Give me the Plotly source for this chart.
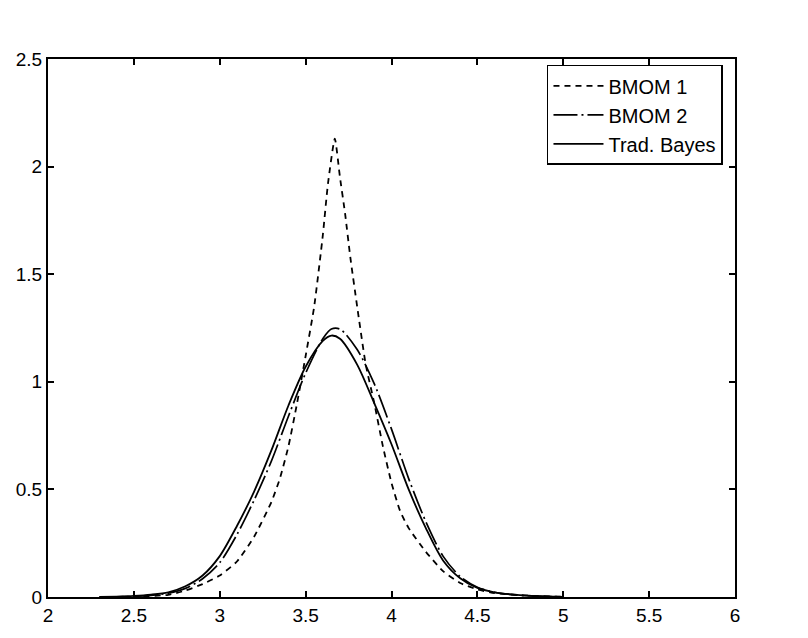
import plotly.graph_objects as go

# BMOM 1 (dashed)
x_bmom1 = [2.3, 2.5, 2.7, 2.8, 2.9, 3.0, 3.1, 3.2, 3.3, 3.35, 3.4, 3.45, 3.5, 3.55, 3.6, 3.63,
           3.67, 3.7, 3.73, 3.76, 3.8, 3.85, 3.9, 3.95, 4.0, 4.05, 4.1, 4.2, 4.3, 4.4, 4.5, 4.6, 4.8, 5.0]
y_bmom1 = [0.0, 0.002, 0.01, 0.03, 0.06, 0.10, 0.165, 0.28, 0.44, 0.55, 0.70, 0.90, 1.12, 1.35, 1.68, 1.92,
           2.13, 1.95, 1.78, 1.58, 1.35, 1.08, 0.90, 0.70, 0.53, 0.40, 0.32, 0.21, 0.12, 0.065, 0.035, 0.018, 0.006, 0.001]

# BMOM 2 (dash-dot)
x_bmom2 = [2.3, 2.4, 2.5, 2.6, 2.7, 2.8, 2.9, 3.0, 3.1, 3.2, 3.3, 3.4, 3.5, 3.6, 3.65, 3.7,
           3.8, 3.9, 4.0, 4.1, 4.2, 4.3, 4.4, 4.5, 4.6, 4.7, 4.8, 4.9, 5.0]
y_bmom2 = [0.0, 0.001, 0.003, 0.008, 0.018, 0.04, 0.085, 0.16, 0.29, 0.45, 0.63, 0.84, 1.04, 1.20, 1.245, 1.245,
           1.15, 0.99, 0.78, 0.55, 0.35, 0.19, 0.095, 0.045, 0.022, 0.011, 0.005, 0.002, 0.001]

# Trad. Bayes (solid)
x_bayes = [2.3, 2.4, 2.5, 2.6, 2.7, 2.8, 2.9, 3.0, 3.1, 3.2, 3.3, 3.4, 3.5, 3.6, 3.65, 3.7,
           3.8, 3.9, 4.0, 4.1, 4.2, 4.3, 4.4, 4.5, 4.6, 4.7, 4.8, 4.9, 5.0]
y_bayes = [0.0, 0.002, 0.005, 0.011, 0.022, 0.05, 0.10, 0.19, 0.33, 0.49, 0.68, 0.89, 1.07, 1.19, 1.215, 1.20,
           1.08, 0.90, 0.71, 0.50, 0.32, 0.17, 0.087, 0.042, 0.022, 0.012, 0.006, 0.003, 0.001]

x_ticks = [2, 2.5, 3, 3.5, 4, 4.5, 5, 5.5, 6]
y_ticks = [0, 0.5, 1, 1.5, 2, 2.5]

fig = go.Figure()
fig.add_trace(go.Scatter(x=x_bmom1, y=y_bmom1, mode="lines", name="BMOM 1",
                         line=dict(color="black", width=1.8, dash="6px,5px", shape="spline", smoothing=0.5)))
fig.add_trace(go.Scatter(x=x_bmom2, y=y_bmom2, mode="lines", name="BMOM 2",
                         line=dict(color="black", width=1.7, dash="24px,4px,2px,4px", shape="spline", smoothing=0.8)))
fig.add_trace(go.Scatter(x=x_bayes, y=y_bayes, mode="lines", name="Trad. Bayes",
                         line=dict(color="black", width=1.8, shape="spline", smoothing=0.8)))

axis_common = dict(showline=True, linecolor="black", linewidth=2, mirror="ticks",
                   ticks="inside", ticklen=6, tickwidth=1.5, tickcolor="black",
                   showgrid=False, zeroline=False,
                   tickfont=dict(family="Liberation Sans, Arial, sans-serif", size=19, color="black"))

fig.update_layout(
    width=808, height=638,
    margin=dict(l=48, r=73, t=59, b=34),
    paper_bgcolor="white", plot_bgcolor="white",
    xaxis=dict(range=[2, 6], tickvals=x_ticks, ticktext=[str(v) for v in x_ticks], **axis_common),
    yaxis=dict(range=[0, 2.5], tickvals=y_ticks, ticktext=[str(v) for v in y_ticks], **axis_common),
    legend=dict(x=0.9825, y=0.989, xanchor="right", yanchor="top",
                bgcolor="white", bordercolor="black", borderwidth=1.5,
                font=dict(family="Liberation Sans, Arial, sans-serif", size=20, color="black"),
                itemwidth=50, tracegroupgap=0),
    showlegend=True,
)

fig.write_html("out.html")
